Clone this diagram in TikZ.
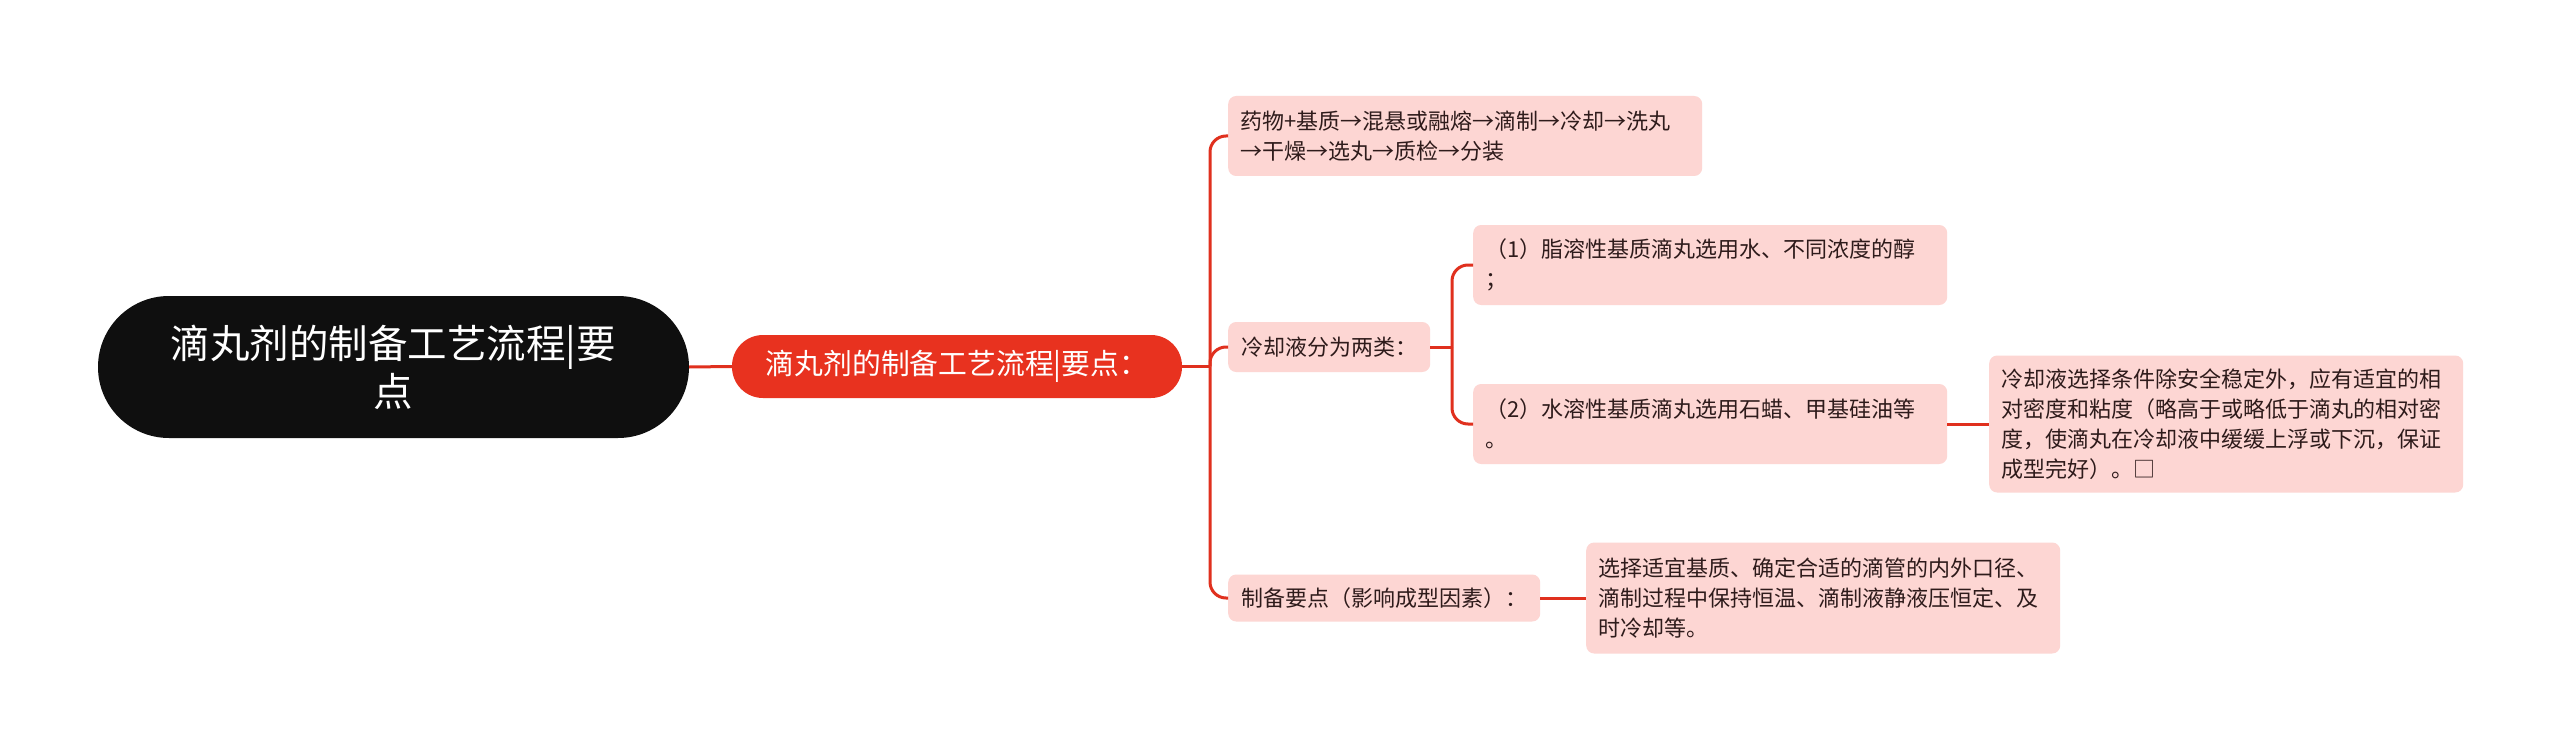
\documentclass[tikz,border=0pt]{standalone}
\usepackage{fontspec}
\setmainfont{Noto Sans CJK SC}
\newfontfamily\cjk{Noto Sans CJK SC}
\definecolor{rootfill}{HTML}{0F0F0F}
\definecolor{mainred}{HTML}{E8321F}
\definecolor{linered}{HTML}{E0301E}
\definecolor{pinkfill}{HTML}{FDD6D3}
\definecolor{pinktext}{HTML}{2E1B1B}
\tikzset{
  rootbox/.style={fill=rootfill, text=white, rounded corners=71pt, minimum width=591pt, minimum height=142pt, align=center, font=\cjk\fontsize{39.5}{48}\selectfont, inner sep=0pt},
  redbox/.style={fill=mainred, text=white, rounded corners=31pt, minimum width=450pt, minimum height=63pt, align=center, font=\cjk\fontsize{28.8}{34}\selectfont, inner sep=0pt},
  pinkbox/.style={fill=pinkfill, text=pinktext, rounded corners=8pt, anchor=west, align=left, font=\cjk\fontsize{22}{30}\selectfont, inner xsep=12pt, inner ysep=0pt},
  widebox/.style={pinkbox, text width=450pt},
  conn/.style={draw=linered, line width=3pt},
  branch/.style={conn, rounded corners=16pt}
}
\begin{document}
\begin{tikzpicture}[x=1pt,y=-1pt]
\useasboundingbox (0,0) rectangle (2560,749);
\fill[white] (0,0) rectangle (2560,749);

\node[rootbox] (root) at (393.5,367) {滴丸剂的制备工艺流程|要\\点};
\node[redbox] (red) at (957,366.5) {滴丸剂的制备工艺流程|要点：};

\node[widebox, minimum height=80pt] (b1) at (1228,136) {药物+基质→混悬或融熔→滴制→冷却→洗丸\\→干燥→选丸→质检→分装};
\node[pinkbox, minimum height=50pt, inner xsep=13pt] (b2) at (1228,347) {冷却液分为两类：};
\node[pinkbox, minimum height=47pt, inner xsep=13pt] (b3) at (1228,598) {制备要点（影响成型因素）：};

\node[widebox, minimum height=80pt] (a) at (1473,265) {（1）脂溶性基质滴丸选用水、不同浓度的醇\\；};
\node[widebox, minimum height=80pt] (b) at (1473,424) {（2）水溶性基质滴丸选用石蜡、甲基硅油等\\。};
\node[widebox, minimum height=111pt] (c) at (1586,598) {选择适宜基质、确定合适的滴管的内外口径、\\滴制过程中保持恒温、滴制液静液压恒定、及\\时冷却等。};
\node[widebox, minimum height=137pt] (d) at (1989,424) {冷却液选择条件除安全稳定外，应有适宜的相\\对密度和粘度（略高于或略低于滴丸的相对密\\度，使滴丸在冷却液中缓缓上浮或下沉，保证\\成型完好）。□};

\coordinate (j1) at (1210,366.5);
\coordinate (j2) at (1452,347);

\draw[conn] (root.east) -- (red.west);
\draw[conn] (red.east) -- (j1);
\draw[branch] (j1) |- (b1.west);
\draw[branch] (j1) |- (b2.west);
\draw[branch] (j1) |- (b3.west);

\draw[conn] (b2.east) -- (j2);
\draw[branch] (j2) |- (a.west);
\draw[branch] (j2) |- (b.west);

\draw[conn] (b.east) -- (d.west);
\draw[conn] (b3.east) -- (c.west |- b3.east);
\end{tikzpicture}
\end{document}
